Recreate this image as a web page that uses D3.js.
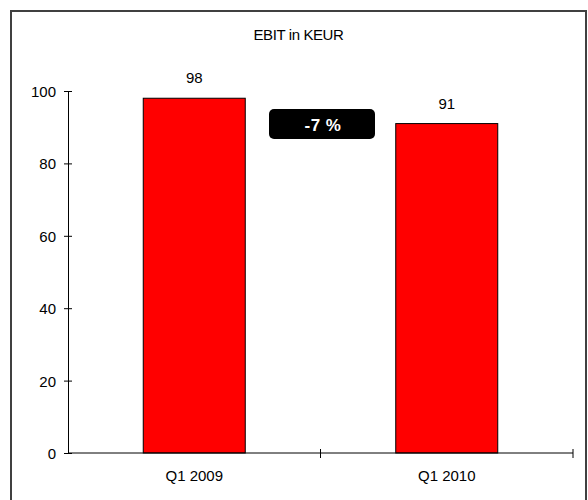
<!DOCTYPE html>
<html><head><meta charset="utf-8">
<script src="https://cdn.jsdelivr.net/npm/d3@7"></script>
<style>body{margin:0;background:#fff}svg{display:block;font-family:"Liberation Sans",Arial,sans-serif}</style>
</head><body><div id="chart"></div>
<script>
const categories = ["Q1 2009", "Q1 2010"];
const values = [98, 91];
const yTicks = [0, 20, 40, 60, 80, 100];
const title = "EBIT in KEUR";
const changeLabel = "-7 %";

const W = 588, H = 500;
const svg = d3.select("#chart").append("svg").attr("width", W).attr("height", H);

// frame
svg.append("rect").attr("x", 11).attr("y", 11).attr("width", 575).attr("height", 500)
  .attr("fill", "none").attr("stroke", "#404040").attr("stroke-width", 2);

const x0 = 68, x1 = 573, yTop = 91, yBot = 453;
const x = d3.scaleBand().domain(categories).range([x0, x1]).padding(0);
const y = d3.scaleLinear().domain([0, 100]).range([yBot, yTop]);

svg.append("text").attr("x", 298.5).attr("y", 40).attr("text-anchor", "middle")
  .attr("font-size", 15).attr("letter-spacing", -0.4).text(title);

// bars
const bw = 102;
svg.selectAll("rect.bar").data(values).enter().append("rect")
  .attr("class", "bar")
  .attr("x", (d, i) => x(categories[i]) + x.bandwidth() / 2 - bw / 2)
  .attr("y", d => y(d))
  .attr("width", bw)
  .attr("height", d => y(0) - y(d))
  .attr("fill", "#ff0000").attr("stroke", "#000").attr("stroke-width", 1);

svg.selectAll("text.val").data(values).enter().append("text")
  .attr("class", "val")
  .attr("x", (d, i) => x(categories[i]) + x.bandwidth() / 2)
  .attr("y", d => y(d) - 15)
  .attr("text-anchor", "middle").attr("font-size", 15).text(d => d);

// y axis
const yAxis = svg.append("g").attr("transform", `translate(${x0},0)`)
  .call(d3.axisLeft(y).tickValues(yTicks).tickSize(4).tickSizeOuter(0).tickPadding(3));
yAxis.select(".domain").attr("stroke", "#000");
yAxis.selectAll(".tick line").attr("x2", 4).attr("x1", -4).attr("stroke", "#000");
yAxis.selectAll(".tick text").attr("font-size", 15).attr("font-family", "Liberation Sans, Arial, sans-serif")
  .attr("fill", "#000").attr("x", -12).attr("dy", "0.36em");

// x axis
const xAxisG = svg.append("g").attr("transform", `translate(0,${yBot})`);
xAxisG.append("line").attr("x1", x0).attr("x2", x1).attr("stroke", "#000");
const bounds = categories.map(c => x(c) + x.bandwidth());
xAxisG.selectAll("line.tk").data(bounds).enter().append("line")
  .attr("class", "tk").attr("x1", d => d).attr("x2", d => d).attr("y1", -4).attr("y2", 5).attr("stroke", "#000");
xAxisG.selectAll("text").data(categories).enter().append("text")
  .attr("x", d => x(d) + x.bandwidth() / 2).attr("y", 28)
  .attr("text-anchor", "middle").attr("font-size", 15).text(d => d);

// change badge
const g = svg.append("g");
g.append("rect").attr("x", 269).attr("y", 109).attr("width", 106).attr("height", 30)
  .attr("rx", 5).attr("fill", "#000");
g.append("text").attr("x", 323).attr("y", 130.5).attr("text-anchor", "middle")
  .attr("font-size", 17).attr("font-weight", "bold").attr("letter-spacing", 0.5).attr("fill", "#fff").text(changeLabel);
</script></body></html>
